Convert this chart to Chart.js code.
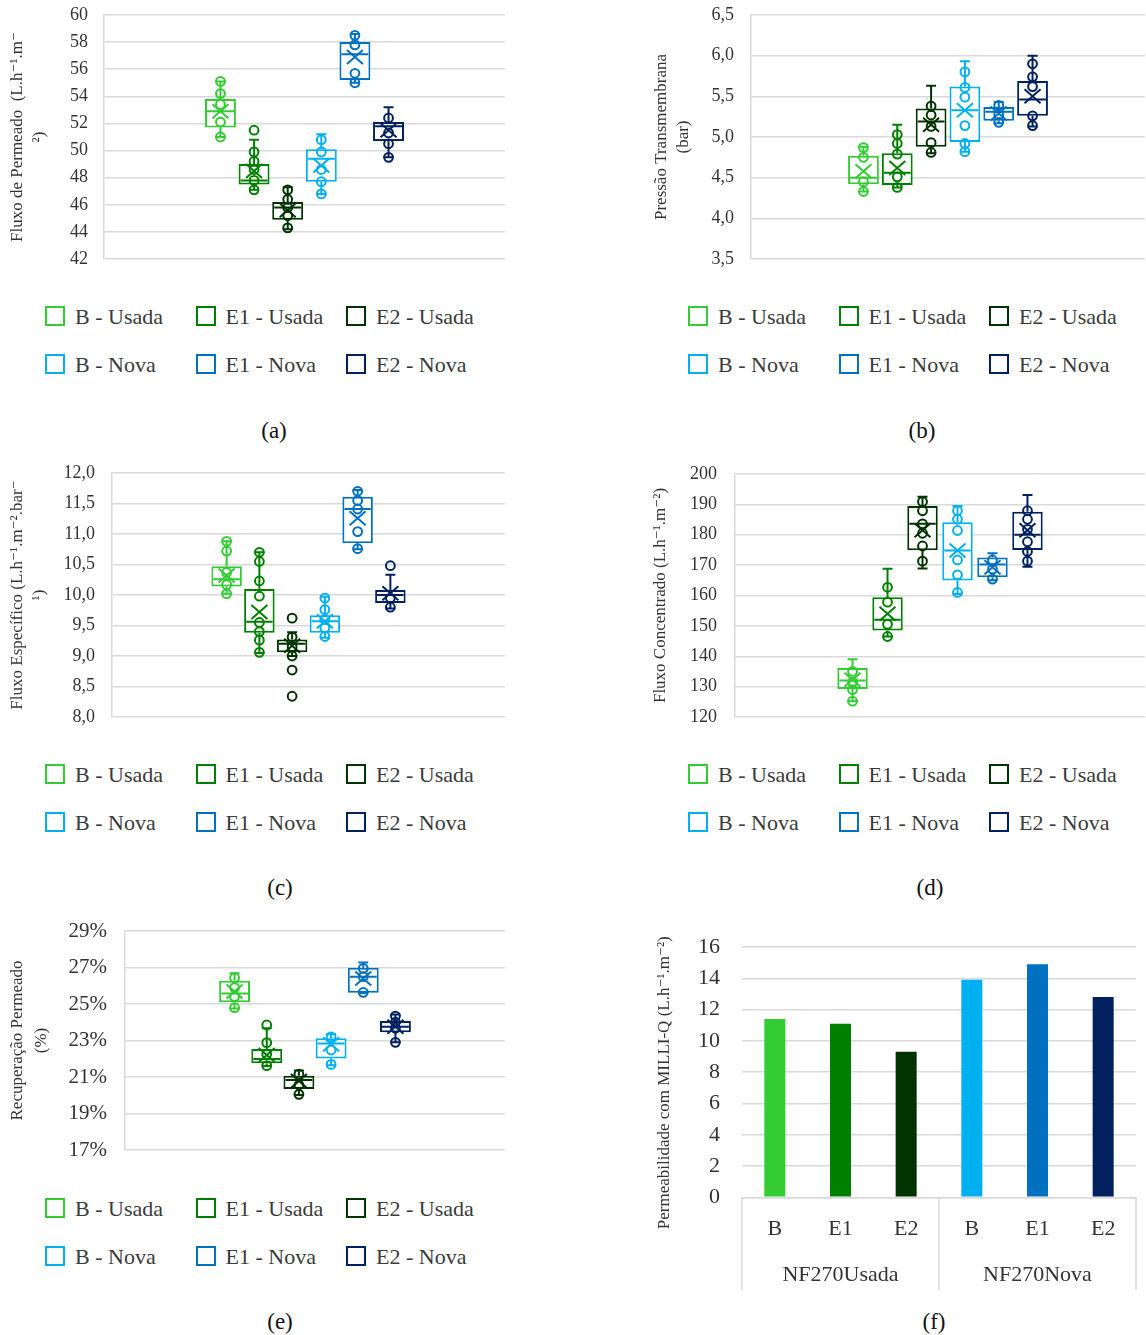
<!DOCTYPE html>
<html lang="pt">
<head>
<meta charset="utf-8">
<title>NF270 - Usada vs Nova</title>
<script src="https://cdn.jsdelivr.net/npm/chart.js@4.4.1/dist/chart.umd.min.js"></script>
<style>
  html, body { margin: 0; padding: 0; background: #fff; }
  body { position: relative; width: 1146px; height: 1335px; overflow: hidden;
         font-family: "Liberation Serif", "DejaVu Serif", serif; color: #333; }
  canvas { position: absolute; }
  .lg-box { position: absolute; width: 16px; height: 16px; border: 2px solid; background: #fff; }
  .lg-txt { position: absolute; font-size: 22px; line-height: 26px; white-space: nowrap; color: #3a3a3a; }
  .cap { position: absolute; width: 100px; text-align: center; font-size: 23px; line-height: 28px; color: #111; }
</style>
</head>
<body>
<canvas id="cA" style="left:0px;top:0px"></canvas>
<canvas id="cB" style="left:640px;top:0px"></canvas>
<canvas id="cC" style="left:0px;top:460px"></canvas>
<canvas id="cD" style="left:640px;top:460px"></canvas>
<canvas id="cE" style="left:0px;top:915px"></canvas>
<canvas id="cF" style="left:640px;top:930px"></canvas>

<script>
// ---- series names ----
const groups = ['B - Usada', 'E1 - Usada', 'E2 - Usada', 'B - Nova', 'E1 - Nova', 'E2 - Nova'];
const palette = ['#33CC33', '#008000', '#003300', '#00B0F0', '#0070C0', '#002060'];

// ---- (a) Fluxo de Permeado (L.h-1.m-2) ----
const permLo   = [51.0, 47.1, 44.2, 46.8, 55.0, 49.5];
const permQ1   = [51.7, 47.5, 44.9, 47.7, 55.2, 50.7];
const permMed  = [52.9, 47.8, 45.8, 49.4, 57.1, 51.8];
const permQ3   = [53.8, 49.0, 46.2, 50.1, 58.0, 52.1];
const permHi   = [55.1, 50.8, 47.3, 51.2, 58.6, 53.2];
const permMean = [52.9, 48.5, 45.6, 48.9, 56.9, 51.5];
const permPts  = [
  [55.1, 54.2, 53.4, 52.1, 51.0],
  [51.5, 49.9, 49.2, 48.6, 47.8, 47.1],
  [47.1, 46.4, 45.8, 45.2, 44.3],
  [50.8, 49.9, 48.6, 47.7, 46.8],
  [58.5, 57.8, 55.7, 55.0],
  [52.4, 51.3, 50.5, 49.5]
];

// ---- (b) Pressao Transmembrana (bar) ----
const ptmLo   = [4.33, 4.38, 4.80, 4.82, 5.17, 5.13];
const ptmQ1   = [4.42, 4.41, 4.88, 4.94, 5.20, 5.26];
const ptmMed  = [4.50, 4.56, 5.19, 5.33, 5.31, 5.46];
const ptmQ3   = [4.77, 4.80, 5.35, 5.62, 5.37, 5.69];
const ptmHi   = [4.88, 5.15, 5.63, 5.93, 5.43, 6.00];
const ptmMean = [4.58, 4.62, 5.15, 5.33, 5.29, 5.50];
const ptmPts  = [
  [4.87, 4.75, 4.45, 4.33],
  [5.03, 4.92, 4.79, 4.51, 4.38],
  [5.38, 5.27, 5.13, 4.93, 4.81],
  [5.80, 5.61, 5.49, 5.14, 4.92, 4.82],
  [5.39, 5.27, 5.18],
  [5.90, 5.74, 5.62, 5.26, 5.14]
];

// ---- (c) Fluxo Especifico (L.h-1.m-2.bar-1) ----
const espLo   = [10.02, 9.05, 9.00, 9.30, 10.75, 9.78];
const espQ1   = [10.14, 9.38, 9.06, 9.38, 10.85, 9.87];
const espMed  = [10.26, 9.56, 9.20, 9.57, 11.41, 10.00];
const espQ3   = [10.47, 10.10, 9.27, 9.67, 11.61, 10.08];
const espHi   = [10.88, 10.70, 9.39, 9.97, 11.72, 10.33];
const espMean = [10.32, 9.72, 9.17, 9.57, 11.26, 10.03];
const espPts  = [
  [10.88, 10.72, 10.37, 10.17, 10.02],
  [10.70, 10.55, 10.23, 9.98, 9.55, 9.40, 9.26, 9.06],
  [9.62, 9.31, 9.15, 9.00, 8.77, 8.34],
  [9.95, 9.76, 9.60, 9.46, 9.32],
  [11.70, 11.55, 11.41, 11.04, 10.76],
  [10.48, 9.95, 9.80]
];

// ---- (d) Fluxo Concentrado (L.h-1.m-2) ----
const concLo   = [125.2, 146.5, 168.9, 160.5, 165.0, 169.5];
const concQ1   = [129.2, 148.5, 174.9, 164.9, 166.0, 175.0];
const concMed  = [132.0, 152.0, 183.6, 174.8, 170.2, 180.0];
const concQ3   = [136.1, 159.4, 189.5, 184.1, 172.5, 187.6];
const concHi   = [139.0, 168.8, 192.5, 189.5, 173.9, 193.1];
const concMean = [132.3, 154.0, 181.5, 174.8, 169.3, 181.5];
const concPts  = [
  [135.0, 131.5, 129.0, 125.2],
  [162.7, 157.8, 150.5, 146.5],
  [190.9, 187.9, 183.6, 180.5, 176.3, 171.3],
  [187.9, 185.1, 181.4, 171.7, 166.8, 161.0],
  [171.7, 168.7, 165.4],
  [187.9, 185.1, 181.8, 177.7, 174.5, 171.3]
];

// ---- (e) Recuperacao Permeado (%) ----
const recLo   = [24.75, 21.60, 20.02, 21.65, 25.60, 22.90];
const recQ1   = [25.09, 21.75, 20.34, 22.02, 25.62, 23.45];
const recMed  = [25.58, 21.99, 20.84, 22.84, 26.50, 23.76];
const recQ3   = [26.28, 22.53, 21.07, 23.12, 26.99, 24.07];
const recHi   = [26.68, 23.67, 21.35, 23.34, 27.28, 24.43];
const recMean = [25.68, 22.20, 20.78, 22.79, 26.40, 23.76];
const recPts  = [
  [26.44, 25.90, 25.40, 24.80],
  [23.85, 22.88, 22.24, 21.62],
  [21.15, 20.56, 20.05],
  [23.20, 22.48, 21.69],
  [26.95, 26.50, 25.64],
  [24.34, 24.00, 23.67, 22.90]
];

// ---- (f) Permeabilidade com MILLI-Q ----
const membranes = ['NF270Usada', 'NF270Nova'];
const solutions = ['B', 'E1', 'E2', 'B', 'E1', 'E2'];
const milliQ    = [11.4, 11.1, 9.3, 13.9, 14.9, 12.8];

// ---- shared styling ----
const FONT = '"Liberation Serif", "DejaVu Serif", serif';
const TEXT = '#333333';
const GRID = '#d9d9d9';
const NONE = 'rgba(0,0,0,0)';
Chart.defaults.font.family = FONT;
Chart.defaults.color = TEXT;

// draws median, whiskers, caps, data points and mean marker over each box
function boxParts(s) {
  return {
    id: 'boxParts',
    afterDatasetsDraw(chart) {
      const ctx = chart.ctx;
      const y = chart.scales.y;
      ctx.save();
      ctx.lineWidth = 2;
      ctx.lineCap = 'butt';
      chart.data.datasets.forEach((ds, i) => {
        const bar = chart.getDatasetMeta(i).data[0];
        const cx = bar.x;
        const half = bar.width / 2;
        ctx.strokeStyle = ds.borderColor;
        const yLo = y.getPixelForValue(s.lo[i]);
        const yHi = y.getPixelForValue(s.hi[i]);
        const yQ1 = y.getPixelForValue(s.q1[i]);
        const yQ3 = y.getPixelForValue(s.q3[i]);
        const yMed = y.getPixelForValue(s.med[i]);
        const yMean = y.getPixelForValue(s.mean[i]);
        ctx.beginPath();
        // whiskers
        ctx.moveTo(cx, yQ3); ctx.lineTo(cx, yHi);
        ctx.moveTo(cx, yQ1); ctx.lineTo(cx, yLo);
        // caps
        ctx.moveTo(cx - 5, yHi); ctx.lineTo(cx + 5, yHi);
        ctx.moveTo(cx - 5, yLo); ctx.lineTo(cx + 5, yLo);
        // median
        ctx.moveTo(cx - half + 2, yMed); ctx.lineTo(cx + half - 2, yMed);
        ctx.stroke();
        // individual values
        s.pts[i].forEach(v => {
          ctx.beginPath();
          ctx.arc(cx, y.getPixelForValue(v), 4.4, 0, Math.PI * 2);
          ctx.stroke();
        });
        // mean marker
        ctx.beginPath();
        ctx.moveTo(cx - 8, yMean - 7); ctx.lineTo(cx + 8, yMean + 7);
        ctx.moveTo(cx + 8, yMean - 7); ctx.lineTo(cx - 8, yMean + 7);
        ctx.stroke();
      });
      ctx.restore();
    }
  };
}

function boxChart(id, s, o) {
  const cv = document.getElementById(id);
  cv.width = o.w; cv.height = o.h;
  cv.style.width = o.w + 'px'; cv.style.height = o.h + 'px';
  return new Chart(cv, {
    type: 'bar',
    data: {
      labels: [''],
      datasets: groups.map((g, i) => ({
        label: g,
        data: [[s.q1[i], s.q3[i]]],
        backgroundColor: '#ffffff',
        borderColor: palette[i],
        borderWidth: 2,
        borderSkipped: false,
        categoryPercentage: o.cat,
        barPercentage: o.bar
      }))
    },
    options: {
      responsive: false,
      animation: false,
      events: [],
      layout: { padding: { left: 0, right: o.padR, top: o.padT, bottom: o.padB } },
      plugins: { legend: { display: false }, tooltip: { enabled: false } },
      scales: {
        x: { display: false, offset: true },
        y: {
          min: o.min, max: o.max,
          ticks: { stepSize: o.step, padding: 0, color: TEXT, autoSkip: false,
                   font: { size: o.tickSize, family: FONT }, callback: o.fmt },
          // invisible tick marks keep the labels clear of the axis line
          grid: { color: GRID, lineWidth: 1.5, drawTicks: true, tickLength: o.tickPad, tickColor: NONE },
          border: { display: true, color: GRID, width: 1.5 },
          title: { display: true, text: o.title, color: TEXT,
                   font: { size: 17, family: FONT, lineHeight: o.titleLH || 1.3 },
                   padding: { top: o.titlePad, bottom: 0 } },
          afterFit(sc) { sc.width = o.axisW; }
        }
      }
    },
    plugins: [boxParts(s)]
  });
}

const comma1 = v => Number(v).toFixed(1).replace('.', ',');

boxChart('cA', { lo: permLo, q1: permQ1, med: permMed, q3: permQ3, hi: permHi, mean: permMean, pts: permPts }, {
  w: 510, h: 275, padR: 5, padT: 15, padB: 16, axisW: 104,
  min: 42, max: 60, step: 2, tickPad: 16, tickSize: 18, fmt: v => v,
  title: ['Fluxo de Permeado  (L.h\u207B\u00B9.m\u207B', '\u00B2)'], titleLH: 22 / 17, titlePad: 7,
  cat: 0.503, bar: 0.92
});

boxChart('cB', { lo: ptmLo, q1: ptmQ1, med: ptmMed, q3: ptmQ3, hi: ptmHi, mean: ptmMean, pts: ptmPts }, {
  w: 506, h: 275, padR: 1, padT: 15, padB: 16, axisW: 111,
  min: 3.5, max: 6.5, step: 0.5, tickPad: 17, tickSize: 18, fmt: comma1,
  title: ['Press\u00E3o Transmembrana', '(bar)'], titleLH: 22 / 17, titlePad: 11,
  cat: 0.515, bar: 0.91
});

boxChart('cC', { lo: espLo, q1: espQ1, med: espMed, q3: espQ3, hi: espHi, mean: espMean, pts: espPts }, {
  w: 510, h: 275, padR: 5, padT: 13, padB: 18, axisW: 112,
  min: 8, max: 12, step: 0.5, tickPad: 17, tickSize: 18, fmt: comma1,
  title: ['Fluxo Espec\u00EDfico (L.h\u207B\u00B9.m\u207B\u00B2.bar\u207B', '\u00B9)'], titleLH: 22 / 17, titlePad: 7,
  cat: 0.50, bar: 0.93
});

boxChart('cD', { lo: concLo, q1: concQ1, med: concMed, q3: concQ3, hi: concHi, mean: concMean, pts: concPts }, {
  w: 506, h: 275, padR: 1, padT: 14, padB: 18, axisW: 95,
  min: 120, max: 200, step: 10, tickPad: 18, tickSize: 18, fmt: v => v,
  title: 'Fluxo Concentrado (L.h\u207B\u00B9.m\u207B\u00B2)', titleLH: 22 / 17, titlePad: 10,
  cat: 0.512, bar: 0.87
});

boxChart('cE', { lo: recLo, q1: recQ1, med: recMed, q3: recQ3, hi: recHi, mean: recMean, pts: recPts }, {
  w: 510, h: 255, padR: 5, padT: 16, padB: 20, axisW: 125,
  min: 17, max: 29, step: 2, tickPad: 18, tickSize: 21, fmt: v => v + '%',
  title: ['Recupera\u00E7\u00E3o Permeado', '(%)'], titleLH: 24 / 17, titlePad: 6,
  cat: 0.508, bar: 0.96
});

// ---- (f) bar chart with two-level category axis ----
const groupDividers = {
  id: 'groupDividers',
  afterDraw(chart) {
    const x = chart.scales.x, x2 = chart.scales.x2;
    const per = solutions.length / membranes.length;
    const ctx = chart.ctx;
    ctx.save();
    ctx.strokeStyle = GRID;
    ctx.lineWidth = 1.5;
    for (let g = 0; g <= membranes.length; g++) {
      const px = x.getPixelForValue(g * per - 0.5);
      ctx.beginPath();
      ctx.moveTo(px, chart.chartArea.bottom);
      ctx.lineTo(px, x2.bottom);
      ctx.stroke();
    }
    ctx.restore();
  }
};

(function () {
  const cv = document.getElementById('cF');
  cv.width = 506; cv.height = 360;
  cv.style.width = '506px'; cv.style.height = '360px';
  new Chart(cv, {
    type: 'bar',
    data: {
      labels: solutions,
      datasets: [{
        label: 'Permeabilidade com MILLI-Q',
        data: milliQ,
        backgroundColor: palette,
        borderWidth: 0,
        categoryPercentage: 1,
        barPercentage: 0.32,
        xAxisID: 'x'
      }]
    },
    options: {
      responsive: false,
      animation: false,
      events: [],
      layout: { padding: { left: 0, right: 10, top: 17, bottom: 0 } },
      plugins: { legend: { display: false }, tooltip: { enabled: false } },
      scales: {
        x: {
          position: 'bottom',
          grid: { display: false, drawTicks: false },
          border: { display: true, color: GRID, width: 1.5 },
          ticks: { padding: 19, color: TEXT, font: { size: 22, family: FONT }, maxRotation: 0, autoSkip: false },
          afterFit(sc) { sc.height = 55; }
        },
        x2: {
          type: 'category',
          labels: membranes,
          position: 'bottom',
          offset: true,
          grid: { display: false, drawTicks: false },
          border: { display: false },
          ticks: { padding: 10, color: TEXT, font: { size: 22, family: FONT }, maxRotation: 0, autoSkip: false },
          afterFit(sc) { sc.height = 360 - 267.3 - 55; }
        },
        y: {
          min: 0, max: 16,
          ticks: { stepSize: 2, padding: 0, autoSkip: false, color: TEXT, font: { size: 22, family: FONT } },
          grid: { color: GRID, lineWidth: 1.5, drawTicks: true, tickLength: 22, tickColor: NONE },
          border: { display: false },
          title: { display: true,
                   // trailing no-break spaces nudge the centred label slightly lower
                   text: 'Permeabilidade com MILLI-Q (L.h\u207B\u00B9.m\u207B\u00B2)\u00A0\u00A0\u00A0\u00A0\u00A0',
                   color: TEXT,
                   font: { size: 17, family: FONT, lineHeight: 22 / 17 }, padding: { top: 14, bottom: 0 } },
          afterFit(sc) { sc.width = 102; }
        }
      }
    },
    plugins: [groupDividers]
  });
})();

// ---- legends and captions ----
function legend(left, rowTop) {
  groups.forEach((g, i) => {
    const col = i % 3, row = Math.floor(i / 3);
    const x = left + col * 150.5;
    const yc = rowTop + row * 48;
    const box = document.createElement('div');
    box.className = 'lg-box';
    box.style.left = x + 'px';
    box.style.top = (yc - 10) + 'px';
    box.style.borderColor = palette[i];
    document.body.appendChild(box);
    const t = document.createElement('div');
    t.className = 'lg-txt';
    t.style.left = (x + 30) + 'px';
    t.style.top = (yc - 12) + 'px';
    t.textContent = g;
    document.body.appendChild(t);
  });
}
function caption(text, cx, cy) {
  const d = document.createElement('div');
  d.className = 'cap';
  d.style.left = (cx - 50) + 'px';
  d.style.top = (cy - 14) + 'px';
  d.textContent = text;
  document.body.appendChild(d);
}

legend(45, 316);
legend(688, 316);
legend(45, 774);
legend(688, 774);
legend(45, 1208);

caption('(a)', 274, 431);
caption('(b)', 922, 431);
caption('(c)', 280, 888);
caption('(d)', 930, 888);
caption('(e)', 280, 1322);
caption('(f)', 934, 1322);
</script>
</body>
</html>
